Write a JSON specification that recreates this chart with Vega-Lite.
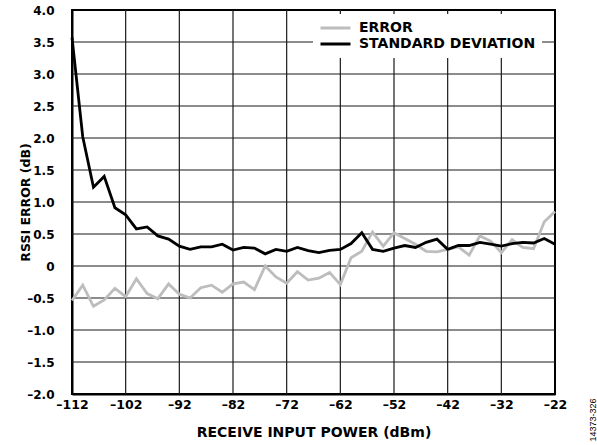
{
  "$schema": "https://vega.github.io/schema/vega-lite/v6.json",
  "width": 483,
  "height": 384,
  "autosize": {"type": "none"},
  "padding": {"left": 72, "top": 10, "right": 42, "bottom": 51},
  "background": "white",
  "config": {
    "font": "DejaVu Sans",
    "view": {"stroke": "black", "strokeWidth": 2},
    "axis": {
      "labelFont": "DejaVu Sans",
      "labelFontWeight": "bold",
      "labelColor": "black",
      "titleFont": "DejaVu Sans",
      "titleFontWeight": "bold",
      "titleColor": "black",
      "ticks": false,
      "grid": false,
      "domainColor": "black",
      "domainWidth": 2,
      "labelFlush": false,
      "labelOverlap": false
    }
  },
  "datasets": {
    "measurements": [
      {"power": -112, "ERROR": -0.54, "STANDARD DEVIATION": 3.57},
      {"power": -110, "ERROR": -0.30, "STANDARD DEVIATION": 2.02},
      {"power": -108, "ERROR": -0.63, "STANDARD DEVIATION": 1.23},
      {"power": -106, "ERROR": -0.53, "STANDARD DEVIATION": 1.40},
      {"power": -104, "ERROR": -0.35, "STANDARD DEVIATION": 0.91},
      {"power": -102, "ERROR": -0.48, "STANDARD DEVIATION": 0.80},
      {"power": -100, "ERROR": -0.20, "STANDARD DEVIATION": 0.58},
      {"power": -98, "ERROR": -0.43, "STANDARD DEVIATION": 0.61},
      {"power": -96, "ERROR": -0.51, "STANDARD DEVIATION": 0.47},
      {"power": -94, "ERROR": -0.28, "STANDARD DEVIATION": 0.42},
      {"power": -92, "ERROR": -0.44, "STANDARD DEVIATION": 0.31},
      {"power": -90, "ERROR": -0.50, "STANDARD DEVIATION": 0.26},
      {"power": -88, "ERROR": -0.34, "STANDARD DEVIATION": 0.30},
      {"power": -86, "ERROR": -0.30, "STANDARD DEVIATION": 0.30},
      {"power": -84, "ERROR": -0.41, "STANDARD DEVIATION": 0.34},
      {"power": -82, "ERROR": -0.28, "STANDARD DEVIATION": 0.25},
      {"power": -80, "ERROR": -0.25, "STANDARD DEVIATION": 0.29},
      {"power": -78, "ERROR": -0.37, "STANDARD DEVIATION": 0.28},
      {"power": -76, "ERROR": 0.00, "STANDARD DEVIATION": 0.19},
      {"power": -74, "ERROR": -0.17, "STANDARD DEVIATION": 0.26},
      {"power": -72, "ERROR": -0.27, "STANDARD DEVIATION": 0.23},
      {"power": -70, "ERROR": -0.09, "STANDARD DEVIATION": 0.29},
      {"power": -68, "ERROR": -0.22, "STANDARD DEVIATION": 0.24},
      {"power": -66, "ERROR": -0.19, "STANDARD DEVIATION": 0.21},
      {"power": -64, "ERROR": -0.10, "STANDARD DEVIATION": 0.245},
      {"power": -62, "ERROR": -0.29, "STANDARD DEVIATION": 0.26},
      {"power": -60, "ERROR": 0.13, "STANDARD DEVIATION": 0.35},
      {"power": -58, "ERROR": 0.23, "STANDARD DEVIATION": 0.52},
      {"power": -56, "ERROR": 0.53, "STANDARD DEVIATION": 0.26},
      {"power": -54, "ERROR": 0.31, "STANDARD DEVIATION": 0.23},
      {"power": -52, "ERROR": 0.52, "STANDARD DEVIATION": 0.28},
      {"power": -50, "ERROR": 0.43, "STANDARD DEVIATION": 0.32},
      {"power": -48, "ERROR": 0.34, "STANDARD DEVIATION": 0.29},
      {"power": -46, "ERROR": 0.23, "STANDARD DEVIATION": 0.37},
      {"power": -44, "ERROR": 0.22, "STANDARD DEVIATION": 0.42},
      {"power": -42, "ERROR": 0.26, "STANDARD DEVIATION": 0.26},
      {"power": -40, "ERROR": 0.30, "STANDARD DEVIATION": 0.32},
      {"power": -38, "ERROR": 0.17, "STANDARD DEVIATION": 0.32},
      {"power": -36, "ERROR": 0.47, "STANDARD DEVIATION": 0.37},
      {"power": -34, "ERROR": 0.39, "STANDARD DEVIATION": 0.34},
      {"power": -32, "ERROR": 0.21, "STANDARD DEVIATION": 0.31},
      {"power": -30, "ERROR": 0.41, "STANDARD DEVIATION": 0.35},
      {"power": -28, "ERROR": 0.29, "STANDARD DEVIATION": 0.37},
      {"power": -26, "ERROR": 0.27, "STANDARD DEVIATION": 0.36},
      {"power": -24, "ERROR": 0.69, "STANDARD DEVIATION": 0.43},
      {"power": -22, "ERROR": 0.85, "STANDARD DEVIATION": 0.34}
    ],
    "xgrid": [
      {"gx": -102}, {"gx": -92}, {"gx": -82}, {"gx": -72}, {"gx": -62},
      {"gx": -52}, {"gx": -42}, {"gx": -32}
    ],
    "ygrid": [
      {"gy": -1.5}, {"gy": -1.0}, {"gy": -0.5}, {"gy": 0.0}, {"gy": 0.5},
      {"gy": 1.0}, {"gy": 1.5}, {"gy": 2.0}, {"gy": 2.5}, {"gy": 3.0}, {"gy": 3.5}
    ]
  },
  "layer": [
    {
      "data": {"name": "xgrid"},
      "mark": {"type": "rule", "color": "#1a1a1a", "strokeWidth": 1.2},
      "encoding": {
        "x": {
          "field": "gx",
          "type": "quantitative",
          "scale": {"domain": [-112, -22], "nice": false, "zero": false},
          "axis": {
            "values": [-112, -102, -92, -82, -72, -62, -52, -42, -32, -22],
            "labelExpr": "datum.value < 0 ? '–' + abs(datum.value) : '' + datum.value",
            "labelFontSize": 12.5,
            "labelPadding": 4,
            "title": "RECEIVE INPUT POWER (dBm)",
            "titleFontSize": 14,
            "titlePadding": 15
          }
        }
      }
    },
    {
      "data": {"name": "ygrid"},
      "mark": {"type": "rule", "color": "#1a1a1a", "strokeWidth": 1.2},
      "encoding": {
        "y": {"field": "gy", "type": "quantitative", "scale": {"domain": [-2, 4], "nice": false, "zero": false}, "axis": null}
      }
    },
    {
      "data": {"name": "measurements"},
      "transform": [
        {"fold": ["ERROR", "STANDARD DEVIATION"], "as": ["series", "value"]}
      ],
      "mark": {"type": "line", "strokeWidth": 2.8, "strokeJoin": "miter"},
      "encoding": {
        "x": {
          "field": "power",
          "type": "quantitative",
          "scale": {"domain": [-112, -22], "nice": false, "zero": false},
          "axis": {
            "values": [-112, -102, -92, -82, -72, -62, -52, -42, -32, -22],
            "labelExpr": "datum.value < 0 ? '–' + abs(datum.value) : '' + datum.value",
            "labelFontSize": 12.5,
            "labelPadding": 4,
            "title": "RECEIVE INPUT POWER (dBm)",
            "titleFontSize": 14,
            "titlePadding": 15
          }
        },
        "y": {
          "field": "value",
          "type": "quantitative",
          "scale": {"domain": [-2, 4], "nice": false, "zero": false},
          "axis": {
            "values": [-2, -1.5, -1, -0.5, 0, 0.5, 1, 1.5, 2, 2.5, 3, 3.5, 4],
            "labelExpr": "datum.value == 0 ? '0' : (datum.value < 0 ? '–' : '') + format(abs(datum.value), '.1f')",
            "labelFontSize": 12,
            "labelPadding": 18,
            "title": "RSSI ERROR (dB)",
            "titleFontSize": 12.5,
            "titlePadding": -6
          }
        },
        "color": {
          "field": "series",
          "type": "nominal",
          "sort": ["ERROR", "STANDARD DEVIATION"],
          "scale": {"domain": ["ERROR", "STANDARD DEVIATION"], "range": ["#bdbdbd", "#000000"]},
          "legend": {
            "title": null,
            "orient": "none",
            "legendX": 241,
            "legendY": 4,
            "fillColor": "white",
            "padding": 6,
            "symbolType": "stroke",
            "symbolSize": 900,
            "symbolStrokeWidth": 3,
            "clipHeight": 16,
            "labelFont": "DejaVu Sans",
            "labelFontWeight": "bold",
            "labelFontSize": 14,
            "labelColor": "black",
            "labelOffset": 7,
            "labelLimit": 400,
            "rowPadding": 0
          }
        }
      }
    },
    {
      "data": {"name": "measurements"},
      "mark": {"type": "rule", "opacity": 0},
      "encoding": {
        "y": {
          "datum": 0,
          "type": "quantitative",
          "scale": {"domain": [-2, 4], "nice": false, "zero": false},
          "axis": {
            "orient": "right",
            "grid": false,
            "labels": false,
            "domain": false,
            "ticks": false,
            "title": "14373-326",
            "titleFont": "Liberation Sans",
            "titleFontWeight": "normal",
            "titleFontSize": 9,
            "titleAngle": 270,
            "titleAlign": "left",
            "titleBaseline": "middle",
            "titleX": 37,
            "titleY": 431
          }
        }
      }
    }
  ],
  "resolve": {"axis": {"y": "independent"}}
}
